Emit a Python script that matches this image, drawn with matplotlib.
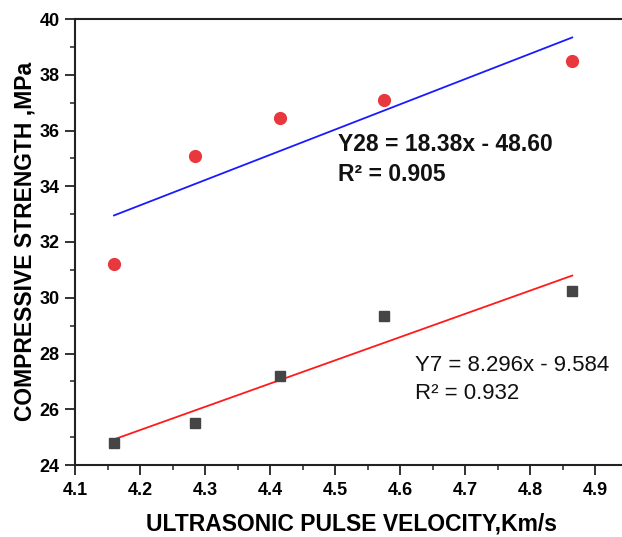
import numpy as np
import matplotlib
matplotlib.use("Agg")
import matplotlib.pyplot as plt
from matplotlib.ticker import MultipleLocator

plt.rcParams['font.family'] = ['Liberation Sans', 'DejaVu Sans']

# ultrasonic pulse velocity (km/s)
upv = [4.16, 4.285, 4.415, 4.575, 4.865]
# compressive strength (MPa)
cs28 = [31.2, 35.1, 36.45, 37.1, 38.5]
cs7 = [24.8, 25.5, 27.2, 29.35, 30.25]

eq28 = ["Y28 = 18.38x - 48.60", "R² = 0.905"]
eq7 = ["Y7 = 8.296x - 9.584", "R² = 0.932"]

fig = plt.figure(figsize=(6.22, 5.37), dpi=100)
ax = fig.add_axes([75 / 622, 72 / 537, 547 / 622, 446 / 537])

# linear fits
x = np.array(upv)
xf = np.array([x.min(), x.max()])
p28 = np.polyfit(x, cs28, 1)
p7 = np.polyfit(x, cs7, 1)
ax.plot(xf, np.polyval(p28, xf), color="#1a1aff", lw=1.3)
ax.plot(xf, np.polyval(p7, xf), color="#ff1a1a", lw=1.3)

ax.plot(upv, cs28, "o", color="#e8383d", ms=8.5, zorder=3)
ax.plot(upv, cs7, "s", color="#454545", ms=7.5, zorder=3)

for s, yb in zip(eq28, [35.265, 34.19]):
    ax.text(4.5046, yb, s, fontsize=16.5, fontweight="bold",
            va="baseline", color="#111111")
for s, yb in zip(eq7, [27.37, 26.37]):
    ax.text(4.623, yb, s, fontsize=16, va="baseline", color="#111111")

ax.set_xlim(4.1, 4.1 + 547 / 650)
ax.set_ylim(24, 40)
ax.xaxis.set_major_locator(MultipleLocator(0.1))
ax.xaxis.set_minor_locator(MultipleLocator(0.05))
ax.yaxis.set_major_locator(MultipleLocator(2))
ax.yaxis.set_minor_locator(MultipleLocator(1))
ax.tick_params(which="major", direction="out", length=7, width=1.3,
               labelsize=13, color="#222222")
ax.tick_params(axis="x", which="major", pad=5)
ax.tick_params(axis="y", which="major", pad=4)
ax.tick_params(which="minor", direction="out", length=3.5, width=1.1,
               color="#222222")
for lab in ax.get_xticklabels() + ax.get_yticklabels():
    lab.set_fontweight("bold")

for s in ["left", "bottom", "top"]:
    ax.spines[s].set_linewidth(1.5)
    ax.spines[s].set_color("#222222")
ax.spines["right"].set_visible(False)

ax.set_xlabel("ULTRASONIC PULSE VELOCITY,Km/s", fontsize=16.5,
              fontweight="bold")
ax.set_ylabel("COMPRESSIVE STRENGTH ,MPa", fontsize=16.5,
              fontweight="bold")
ax.xaxis.set_label_coords(0.5055, -0.1076)
ax.yaxis.set_label_coords(-0.070, 0.501)

fig.savefig("out.png", dpi=100)
